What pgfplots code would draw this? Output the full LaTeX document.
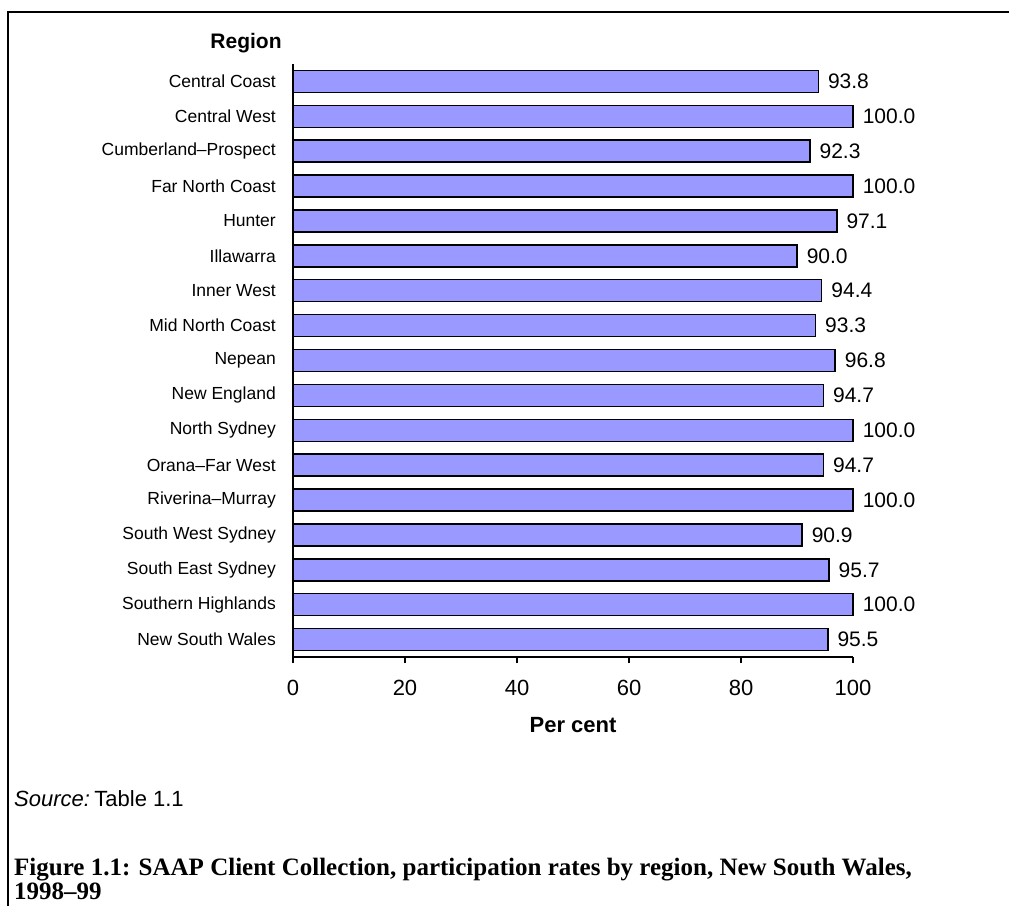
\documentclass[border=0pt]{standalone}
\usepackage{fontspec}
\setmainfont{Liberation Sans}
\newfontfamily\capfont[Ligatures=TeX]{Liberation Serif}
\usepackage{pgfplots}
\pgfplotsset{compat=1.18}
\usepackage{pgfplotstable}
\definecolor{barblue}{HTML}{9999FF}
\pgfplotstableread{
idx val
16 93.8
15 100.0
14 92.3
13 100.0
12 97.1
11 90.0
10 94.4
9 93.3
8 96.8
7 94.7
6 100.0
5 94.7
4 100.0
3 90.9
2 95.7
1 100.0
0 95.5
}\datatable
\begin{document}
\begin{tikzpicture}
\clip (0pt,0pt) rectangle (1009pt,-906pt);
\fill[white] (0pt,0pt) rectangle (1009pt,-906pt);
\draw[line width=1.5pt] (8pt,-906pt) -- (8pt,-12pt) -- (1009pt,-12pt);
\begin{axis}[
  at={(293pt,-657pt)}, anchor=south west,
  scale only axis, width=560pt, height=593pt,
  xmin=0, xmax=100, ymin=-0.5, ymax=16.5,
  xbar, bar width=22pt,
  axis x line*=bottom, axis y line*=left,
  axis line style={line width=2pt},
  xtick={0,20,40,60,80,100},
  x tick style={line width=1.5pt, black},
  tick align=outside, major tick length=6pt,
  ytick={0,...,16},
  y tick style={draw=none},
  yticklabels={New South Wales, Southern Highlands, South East Sydney, South West Sydney, Riverina--Murray, Orana--Far West, North Sydney, New England, Nepean, Mid North Coast, Inner West, Illawarra, Hunter, Far North Coast, Cumberland--Prospect, Central West, Central Coast},
  yticklabel style={font=\fontsize{17.5}{20}\selectfont, inner sep=0pt, anchor=east, xshift=-11pt},
  xticklabel style={font=\fontsize{22}{26}\selectfont, inner sep=0pt, anchor=north, yshift=-17pt},
  /pgf/number format/assume math mode=true,
  xlabel={\bfseries Per cent},
  xlabel style={font=\fontsize{22}{26}\selectfont, at={(axis description cs:0.5,0)}, anchor=center, yshift=-68pt},
  nodes near coords={\pgfmathprintnumber[fixed,fixed zerofill,precision=1]{\pgfplotspointmeta}},
  nodes near coords style={font=\fontsize{21}{25}\selectfont, anchor=west, inner sep=0pt, xshift=9pt},
  point meta=x,
  clip=false,
]
\addplot[fill=barblue, draw=black, line width=1.5pt] table[x=val, y=idx] {\datatable};
\end{axis}
\node[font=\fontsize{21}{25}\selectfont\bfseries] at (246pt,-43pt) {Region};
\node[anchor=base west, font=\fontsize{22}{26}\selectfont, inner sep=0pt] at (14pt,-806pt) {\itshape Source:\upshape\hspace{0.2em}Table 1.1};
\node[anchor=base west, font=\capfont\bfseries\fontsize{25}{30}\selectfont, inner sep=0pt] at (14pt,-875pt) {Figure 1.1: SAAP Client Collection, participation rates by region, New South Wales,};
\node[anchor=base west, font=\capfont\bfseries\fontsize{25}{30}\selectfont, inner sep=0pt] at (14pt,-899pt) {1998–99};
\end{tikzpicture}
\end{document}
